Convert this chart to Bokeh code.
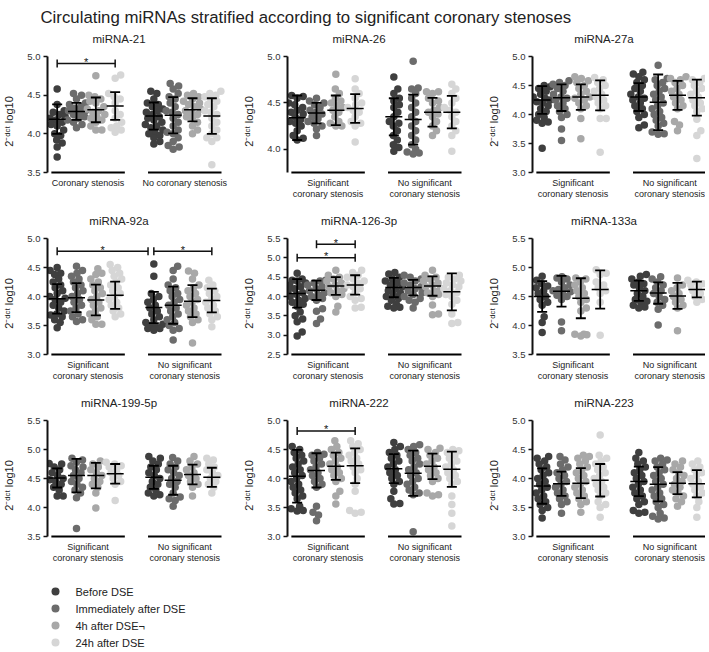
import numpy as np
from bokeh.plotting import figure
from bokeh.layouts import column, row
from bokeh.models import Range1d, FixedTicker, PrintfTickFormatter
from bokeh.core.properties import value
from bokeh.embed import file_html
from bokeh.resources import INLINE

# ---------------- data ----------------
MAIN_TITLE = "Circulating miRNAs stratified according to significant coronary stenoses"
PANEL_NAMES = ["miRNA-21", "miRNA-26", "miRNA-27a",
               "miRNA-92a", "miRNA-126-3p", "miRNA-133a",
               "miRNA-199-5p", "miRNA-222", "miRNA-223"]
TIMEPOINTS = [" Before DSE", "Immediately after DSE", "4h after DSE\u00ac", "24h after DSE"]
TP_COLORS = ["#3f3f3f", "#6c6c6c", "#a8a8a8", "#d6d6d6"]
GROUP_LABELS = [["Significant", "coronary stenosis"], ["No significant", "coronary stenosis"]]
GROUP_LABELS_MIR21 = [["Coronary stenosis"], ["No coronary stenosis"]]
Y_LABEL = "2\u207b\u1d48\u1d9c\u1d57 log10"

Y_BOUNDS = [(3.5, 5.0), (3.75, 5.0), (3.0, 5.0),
            (3.0, 5.0), (2.5, 5.5), (3.5, 5.5),
            (3.5, 5.5), (3.0, 5.0), (3.0, 5.0)]
Y_TICKS = [[3.5, 4.0, 4.5, 5.0], [4.0, 4.5, 5.0], [3.0, 3.5, 4.0, 4.5, 5.0],
           [3.0, 3.5, 4.0, 4.5, 5.0], [2.5, 3.0, 3.5, 4.0, 4.5, 5.0, 5.5], [3.5, 4.0, 4.5, 5.0, 5.5],
           [3.5, 4.0, 4.5, 5.0, 5.5], [3.0, 3.5, 4.0, 4.5, 5.0], [3.0, 3.5, 4.0, 4.5, 5.0]]

# order of each list: significant (before, immediately, 4h, 24h), non-significant (before, immediately, 4h, 24h)
mir21_values = [
    [4.58, 4.38, 4.30, 4.28, 4.25, 4.22, 4.20, 4.18, 4.15, 4.12, 4.10, 4.05, 4.00, 3.98, 3.92, 3.88, 3.83, 3.70],
    [4.52, 4.50, 4.45, 4.40, 4.38, 4.35, 4.33, 4.30, 4.30, 4.28, 4.25, 4.22, 4.20, 4.18, 4.15, 4.12, 4.08],
    [4.75, 4.50, 4.48, 4.45, 4.42, 4.40, 4.35, 4.32, 4.30, 4.28, 4.25, 4.22, 4.20, 4.18, 4.15, 4.10, 4.05, 4.05],
    [4.76, 4.72, 4.52, 4.48, 4.45, 4.40, 4.30, 4.25, 4.20, 4.15, 4.10, 4.08, 4.05, 4.02],
    [4.55, 4.52, 4.45, 4.40, 4.38, 4.35, 4.32, 4.30, 4.28, 4.25, 4.22, 4.20, 4.18, 4.15, 4.12, 4.10, 4.08, 4.05, 4.02, 4.00, 3.98, 3.95, 3.90, 3.87],
    [4.65, 4.62, 4.58, 4.52, 4.48, 4.45, 4.40, 4.35, 4.30, 4.28, 4.25, 4.20, 4.15, 4.10, 4.05, 4.02, 4.00, 3.95, 3.90, 3.85, 3.83, 3.80],
    [4.52, 4.50, 4.48, 4.45, 4.42, 4.40, 4.38, 4.35, 4.32, 4.30, 4.28, 4.25, 4.22, 4.20, 4.15, 4.10, 4.05, 4.00],
    [4.55, 4.52, 4.50, 4.48, 4.45, 4.42, 4.38, 4.35, 4.30, 4.28, 4.25, 4.20, 4.15, 4.10, 4.05, 4.00, 3.95, 3.95, 3.90, 3.60],
]
mir21_mean = [4.19, 4.29, 4.31, 4.36, 4.23, 4.24, 4.31, 4.23]
mir21_sd = [0.19, 0.11, 0.16, 0.18, 0.175, 0.235, 0.15, 0.23]

mir26_values = [
    [4.58, 4.57, 4.55, 4.50, 4.48, 4.45, 4.42, 4.40, 4.38, 4.35, 4.32, 4.30, 4.28, 4.25, 4.20, 4.15, 4.12, 4.10],
    [4.55, 4.52, 4.50, 4.48, 4.45, 4.42, 4.40, 4.38, 4.35, 4.33, 4.30, 4.28, 4.25, 4.22, 4.15],
    [4.81, 4.65, 4.60, 4.55, 4.52, 4.50, 4.47, 4.45, 4.42, 4.40, 4.35, 4.30, 4.28, 4.25, 4.25],
    [4.76, 4.65, 4.60, 4.55, 4.50, 4.48, 4.45, 4.42, 4.40, 4.35, 4.30, 4.28, 4.25, 4.08],
    [4.78, 4.65, 4.60, 4.55, 4.52, 4.48, 4.45, 4.40, 4.35, 4.30, 4.28, 4.25, 4.20, 4.15, 4.10, 4.05, 4.02, 3.98],
    [4.95, 4.66, 4.65, 4.60, 4.55, 4.50, 4.45, 4.40, 4.35, 4.30, 4.25, 4.20, 4.15, 4.10, 4.05, 4.00, 3.97, 3.96, 3.95],
    [4.62, 4.62, 4.60, 4.55, 4.52, 4.50, 4.45, 4.42, 4.40, 4.38, 4.35, 4.30, 4.25, 4.20, 4.15],
    [4.70, 4.65, 4.60, 4.55, 4.50, 4.45, 4.42, 4.40, 4.35, 4.30, 4.25, 4.20, 4.15, 3.98],
]
mir26_mean = [4.34, 4.39, 4.42, 4.44, 4.35, 4.32, 4.40, 4.40]
mir26_sd = [0.24, 0.11, 0.16, 0.155, 0.20, 0.27, 0.155, 0.175]

mir27a_values = [
    [4.50, 4.48, 4.45, 4.40, 4.35, 4.30, 4.28, 4.25, 4.22, 4.20, 4.15, 4.10, 4.05, 4.00, 3.95, 3.90, 3.87, 3.85, 3.42],
    [4.58, 4.55, 4.52, 4.50, 4.45, 4.40, 4.35, 4.30, 4.28, 4.25, 4.20, 4.15, 4.10, 4.05, 4.00, 3.95, 3.75, 3.55],
    [4.65, 4.62, 4.58, 4.55, 4.50, 4.45, 4.40, 4.35, 4.30, 4.28, 4.25, 4.20, 4.15, 4.10, 3.93, 3.58],
    [4.64, 4.60, 4.55, 4.50, 4.45, 4.40, 4.35, 4.30, 4.25, 4.20, 4.15, 4.10, 3.93, 3.93, 3.35],
    [4.73, 4.70, 4.65, 4.60, 4.55, 4.50, 4.45, 4.40, 4.35, 4.30, 4.28, 4.25, 4.20, 4.15, 4.10, 4.05, 4.00, 3.95, 3.82, 3.77],
    [4.85, 4.62, 4.60, 4.55, 4.50, 4.45, 4.40, 4.35, 4.30, 4.25, 4.20, 4.15, 4.10, 4.05, 4.00, 3.95, 3.90, 3.85, 3.80, 3.70, 3.67, 3.66],
    [4.65, 4.62, 4.60, 4.55, 4.50, 4.45, 4.40, 4.35, 4.30, 4.25, 4.20, 4.15, 4.10, 3.88, 3.82, 3.72],
    [4.62, 4.60, 4.55, 4.50, 4.45, 4.40, 4.35, 4.30, 4.25, 4.20, 4.15, 4.10, 4.05, 3.92, 3.72, 3.64, 3.24],
]
mir27a_mean = [4.25, 4.29, 4.30, 4.33, 4.30, 4.21, 4.33, 4.29]
mir27a_sd = [0.24, 0.23, 0.22, 0.26, 0.24, 0.48, 0.25, 0.31]

mir92a_values = [
    [4.50, 4.45, 4.40, 4.38, 4.30, 4.25, 4.20, 4.15, 4.10, 4.05, 4.00, 3.97, 3.95, 3.90, 3.85, 3.80, 3.75, 3.70, 3.68, 3.65, 3.60, 3.55, 3.46],
    [4.52, 4.45, 4.40, 4.35, 4.30, 4.25, 4.20, 4.15, 4.10, 4.05, 4.00, 3.95, 3.90, 3.85, 3.80, 3.75, 3.70, 3.65, 3.60, 3.57],
    [4.48, 4.40, 4.38, 4.30, 4.25, 4.20, 4.15, 4.10, 4.05, 4.00, 3.95, 3.90, 3.85, 3.80, 3.75, 3.70, 3.65, 3.60, 3.52, 3.52],
    [4.55, 4.50, 4.45, 4.40, 4.35, 4.30, 4.25, 4.20, 4.15, 4.10, 4.05, 4.00, 3.95, 3.90, 3.85, 3.80, 3.75, 3.70, 3.65],
    [4.56, 4.35, 4.05, 4.00, 3.95, 3.90, 3.85, 3.80, 3.75, 3.70, 3.65, 3.60, 3.55, 3.52, 3.50, 3.48, 3.45, 3.45, 3.42],
    [4.52, 4.45, 4.30, 4.20, 4.15, 4.10, 4.05, 4.00, 3.95, 3.90, 3.85, 3.80, 3.75, 3.70, 3.65, 3.60, 3.55, 3.50, 3.45, 3.42, 3.25],
    [4.44, 4.40, 4.30, 4.20, 4.15, 4.10, 4.05, 4.00, 3.95, 3.90, 3.85, 3.80, 3.75, 3.70, 3.65, 3.60, 3.55, 3.20],
    [4.28, 4.20, 4.15, 4.10, 4.05, 4.00, 3.95, 3.90, 3.85, 3.80, 3.75, 3.70, 3.65, 3.60, 3.48],
]
mir92a_mean = [3.96, 3.98, 3.94, 4.02, 3.81, 3.85, 3.92, 3.93]
mir92a_sd = [0.255, 0.25, 0.265, 0.235, 0.27, 0.32, 0.275, 0.205]

mir126_values = [
    [4.60, 4.45, 4.42, 4.40, 4.35, 4.30, 4.25, 4.20, 4.15, 4.10, 4.05, 4.00, 3.95, 3.90, 3.85, 3.80, 3.75, 3.60, 3.50, 3.42, 3.35, 3.08, 2.98],
    [4.42, 4.40, 4.35, 4.30, 4.25, 4.20, 4.15, 4.10, 4.05, 4.00, 3.95, 3.90, 3.68, 3.62, 3.42, 3.30],
    [4.68, 4.55, 4.50, 4.45, 4.40, 4.35, 4.30, 4.25, 4.20, 4.15, 4.10, 4.05, 4.00, 3.75, 3.60],
    [4.68, 4.62, 4.55, 4.50, 4.45, 4.40, 4.35, 4.30, 4.25, 4.20, 4.10, 4.00, 3.95, 3.90, 3.72, 3.70],
    [4.62, 4.58, 4.50, 4.45, 4.40, 4.35, 4.30, 4.25, 4.20, 4.15, 4.10, 4.05, 4.00, 3.95, 3.90, 3.80, 3.75, 3.72, 3.70],
    [4.55, 4.50, 4.45, 4.40, 4.35, 4.30, 4.25, 4.20, 4.15, 4.10, 4.05, 4.00, 3.95, 3.90, 3.85, 3.70],
    [4.68, 4.55, 4.50, 4.45, 4.40, 4.35, 4.30, 4.25, 4.20, 4.15, 4.10, 4.05, 4.00, 3.78, 3.55, 3.53],
    [4.55, 4.50, 4.45, 4.40, 4.35, 4.30, 4.25, 4.20, 4.15, 4.10, 4.05, 4.00, 3.90, 3.80, 3.55, 3.33, 3.30],
]
mir126_mean = [4.08, 4.16, 4.27, 4.30, 4.23, 4.23, 4.27, 4.12]
mir126_sd = [0.37, 0.25, 0.23, 0.25, 0.25, 0.20, 0.25, 0.48]

mir133a_values = [
    [4.85, 4.78, 4.72, 4.68, 4.65, 4.60, 4.55, 4.50, 4.45, 4.40, 4.35, 4.15, 4.05, 3.88],
    [4.84, 4.82, 4.80, 4.75, 4.70, 4.65, 4.62, 4.60, 4.58, 4.55, 4.52, 4.50, 4.45, 4.06, 3.91],
    [4.82, 4.80, 4.75, 4.70, 4.65, 4.60, 4.55, 4.50, 4.45, 4.40, 4.30, 4.25, 3.85, 3.84, 3.82, 3.85],
    [4.96, 4.90, 4.88, 4.75, 4.70, 4.65, 4.60, 4.55, 4.40, 3.83],
    [4.88, 4.85, 4.80, 4.75, 4.72, 4.70, 4.65, 4.60, 4.55, 4.50, 4.45, 4.42, 4.40, 4.35, 4.32, 4.30],
    [4.84, 4.80, 4.75, 4.70, 4.65, 4.60, 4.55, 4.50, 4.45, 4.40, 4.35, 4.28, 4.01],
    [4.82, 4.70, 4.65, 4.60, 4.55, 4.50, 4.45, 4.40, 4.35, 4.30, 3.91],
    [4.78, 4.75, 4.72, 4.70, 4.65, 4.60, 4.55, 4.50, 4.45, 4.40],
]
mir133a_mean = [4.50, 4.59, 4.47, 4.62, 4.60, 4.56, 4.51, 4.62]
mir133a_sd = [0.265, 0.265, 0.345, 0.33, 0.175, 0.185, 0.225, 0.135]

mir199_values = [
    [4.76, 4.75, 4.70, 4.65, 4.60, 4.55, 4.50, 4.48, 4.45, 4.40, 4.35, 4.30, 4.20, 4.20],
    [4.85, 4.82, 4.78, 4.72, 4.70, 4.65, 4.60, 4.55, 4.50, 4.45, 4.40, 4.35, 4.30, 4.25, 4.17, 3.64],
    [4.80, 4.75, 4.70, 4.65, 4.60, 4.55, 4.50, 4.45, 4.40, 4.35, 4.25, 3.99],
    [4.78, 4.75, 4.72, 4.70, 4.65, 4.60, 4.55, 4.50, 4.45, 4.40, 4.12],
    [4.88, 4.85, 4.80, 4.75, 4.70, 4.65, 4.60, 4.55, 4.50, 4.45, 4.40, 4.35, 4.30, 4.25, 4.22, 4.20],
    [4.86, 4.80, 4.75, 4.70, 4.65, 4.60, 4.55, 4.50, 4.45, 4.40, 4.35, 4.25, 4.18, 4.15, 4.12, 4.02],
    [4.88, 4.80, 4.75, 4.70, 4.65, 4.60, 4.55, 4.50, 4.45, 4.40, 4.35, 4.20],
    [4.85, 4.82, 4.75, 4.70, 4.65, 4.60, 4.55, 4.50, 4.45, 4.40, 4.35, 4.25],
]
mir199_mean = [4.51, 4.55, 4.55, 4.58, 4.52, 4.47, 4.57, 4.52]
mir199_sd = [0.165, 0.29, 0.22, 0.17, 0.20, 0.25, 0.17, 0.165]

mir222_values = [
    [4.55, 4.50, 4.45, 4.40, 4.35, 4.30, 4.25, 4.20, 4.15, 4.10, 4.05, 4.00, 3.95, 3.90, 3.85, 3.80, 3.75, 3.70, 3.65, 3.52, 3.48, 3.45, 3.44],
    [4.45, 4.42, 4.40, 4.35, 4.30, 4.25, 4.20, 4.15, 4.10, 4.05, 4.00, 3.95, 3.90, 3.85, 3.52, 3.42, 3.37, 3.27],
    [4.65, 4.55, 4.50, 4.45, 4.40, 4.35, 4.30, 4.25, 4.20, 4.15, 4.10, 4.05, 4.00, 3.95, 3.78, 3.70, 3.56],
    [4.65, 4.60, 4.55, 4.50, 4.45, 4.40, 4.35, 4.30, 4.25, 4.20, 4.15, 4.10, 4.00, 3.90, 3.78, 3.45, 3.42, 3.40],
    [4.62, 4.55, 4.50, 4.45, 4.40, 4.35, 4.30, 4.25, 4.20, 4.15, 4.10, 4.05, 4.00, 3.95, 3.90, 3.78, 3.65, 3.57, 3.56],
    [4.58, 4.55, 4.50, 4.45, 4.40, 4.35, 4.30, 4.25, 4.20, 4.15, 4.10, 4.05, 4.00, 3.95, 3.90, 3.85, 3.80, 3.75, 3.72, 3.08],
    [4.52, 4.50, 4.45, 4.40, 4.35, 4.30, 4.25, 4.20, 4.15, 4.10, 4.05, 4.00, 3.95, 3.75, 3.72, 3.70],
    [4.50, 4.48, 4.45, 4.40, 4.35, 4.30, 4.25, 4.20, 4.15, 4.10, 4.05, 4.00, 3.95, 3.90, 3.70, 3.55, 3.40, 3.18],
]
mir222_mean = [4.04, 4.14, 4.21, 4.22, 4.17, 4.09, 4.21, 4.16]
mir222_sd = [0.455, 0.295, 0.235, 0.30, 0.25, 0.39, 0.22, 0.305]

mir223_values = [
    [4.38, 4.35, 4.30, 4.25, 4.20, 4.15, 4.10, 4.05, 4.00, 3.95, 3.90, 3.85, 3.80, 3.75, 3.70, 3.65, 3.60, 3.55, 3.50, 3.45, 3.32],
    [4.38, 4.32, 4.25, 4.20, 4.15, 4.10, 4.05, 4.00, 3.95, 3.90, 3.85, 3.80, 3.75, 3.70, 3.65, 3.60, 3.55, 3.40],
    [4.40, 4.38, 4.35, 4.30, 4.25, 4.20, 4.15, 4.10, 4.05, 4.00, 3.95, 3.90, 3.85, 3.80, 3.75, 3.70, 3.65, 3.60, 3.55, 3.42],
    [4.75, 4.40, 4.35, 4.30, 4.25, 4.20, 4.15, 4.10, 4.05, 4.00, 3.95, 3.90, 3.85, 3.80, 3.75, 3.70, 3.60, 3.55, 3.50, 3.33],
    [4.45, 4.35, 4.30, 4.25, 4.20, 4.15, 4.10, 4.05, 4.00, 3.95, 3.90, 3.85, 3.80, 3.75, 3.70, 3.65, 3.60, 3.55, 3.45, 3.42, 3.40],
    [4.35, 4.32, 4.30, 4.25, 4.20, 4.15, 4.10, 4.05, 4.00, 3.95, 3.90, 3.85, 3.80, 3.75, 3.70, 3.65, 3.60, 3.55, 3.50, 3.40, 3.35, 3.32, 3.30],
    [4.30, 4.25, 4.20, 4.15, 4.10, 4.05, 4.00, 3.95, 3.90, 3.85, 3.80, 3.75, 3.70, 3.65, 3.60, 3.52],
    [4.30, 4.25, 4.20, 4.15, 4.10, 4.05, 4.00, 3.95, 3.90, 3.85, 3.80, 3.75, 3.70, 3.60, 3.50, 3.33],
]
mir223_mean = [3.87, 3.91, 3.92, 3.97, 3.95, 3.90, 3.92, 3.91]
mir223_sd = [0.305, 0.21, 0.26, 0.28, 0.255, 0.295, 0.19, 0.235]

# significance brackets: (from position, to position, level)
mir21_brackets = [(0, 3, 4.91)]
mir92a_brackets = [(0, 4.7, 4.78), (5, 8, 4.78)]
mir126_brackets = [(1, 3, 5.35), (0, 3, 5.0)]
mir222_brackets = [(0, 3, 4.82)]

PANEL_VALUES = [mir21_values, mir26_values, mir27a_values, mir92a_values, mir126_values,
                mir133a_values, mir199_values, mir222_values, mir223_values]
PANEL_MEANS = [mir21_mean, mir26_mean, mir27a_mean, mir92a_mean, mir126_mean,
               mir133a_mean, mir199_mean, mir222_mean, mir223_mean]
PANEL_SDS = [mir21_sd, mir26_sd, mir27a_sd, mir92a_sd, mir126_sd,
             mir133a_sd, mir199_sd, mir222_sd, mir223_sd]
PANEL_BRACKETS = [mir21_brackets, [], [], mir92a_brackets, mir126_brackets, [], [], mir222_brackets, []]

# ---------------- layout / style ----------------
FONT = "Liberation Sans"
ROW_H = 182
AXIS_TOP_PX = 26
AXIS_BOTTOM_PX = 142
COLS = [(47, 193), (43, 189), (56, 173)]  # left border, frame width
KX = 174 / 9.0
XPOS = [0, 1, 2, 3, 5, 6, 7, 8]
X_START = -0.5


def swarm_offsets(vals, ky, d=6.0, maxoff=9.0, step=0.5):
    order = sorted(range(len(vals)), key=lambda i: vals[i])
    cands = [0.0]
    s = step
    while s <= maxoff + 1e-9:
        cands += [s, -s]
        s += step
    placed = []
    offs = [0.0] * len(vals)
    for i in order:
        y = vals[i] * ky
        chosen = None
        best_c, best_d = 0.0, -1.0
        for c in cands:
            md = 1e9
            for px, py in placed:
                if abs(py - y) < d:
                    md = min(md, float(np.hypot(c - px, y - py)))
            if md >= d:
                chosen = c
                break
            if md > best_d:
                best_d, best_c = md, c
        if chosen is None:
            chosen = best_c
        offs[i] = chosen
        placed.append((chosen, y))
    return offs


def build_panel(idx):
    col = idx % 3
    bl, fw = COLS[col]
    bottom, top = Y_BOUNDS[idx]
    k = (AXIS_BOTTOM_PX - AXIS_TOP_PX) / (top - bottom)
    y_end = top + AXIS_TOP_PX / k
    y_start = y_end - ROW_H / k
    kx = KX

    def ypx(px):
        return y_end - px / k

    p = figure(frame_width=fw, frame_height=ROW_H, min_border_left=bl, min_border_right=0,
               min_border_top=0, min_border_bottom=0,
               x_range=Range1d(X_START, X_START + fw / kx), y_range=Range1d(y_start, y_end),
               x_axis_type=None, output_backend="svg", toolbar_location=None, tools="")
    p.outline_line_color = None
    p.grid.visible = False
    p.background_fill_color = "white"
    p.border_fill_color = "white"

    ax = p.yaxis[0]
    ax.bounds = (bottom, top)
    ax.ticker = FixedTicker(ticks=Y_TICKS[idx])
    ax.formatter = PrintfTickFormatter(format="%.1f")
    ax.minor_tick_line_color = None
    ax.axis_line_width = 2
    ax.axis_line_color = "#111111"
    ax.major_tick_line_width = 1.5
    ax.major_tick_line_color = "#111111"
    ax.major_tick_out = 4
    ax.major_tick_in = 0
    ax.major_label_standoff = 3
    ax.major_label_text_font = FONT
    ax.major_label_text_font_size = "9.5px"
    ax.major_label_text_color = "#333333"
    ax.axis_label = Y_LABEL
    ax.axis_label_standoff = 9
    ax.axis_label_text_font = FONT
    ax.axis_label_text_font_size = "11px"
    ax.axis_label_text_font_style = "normal"
    ax.axis_label_text_color = "#222222"

    vals = PANEL_VALUES[idx]
    means = PANEL_MEANS[idx]
    sds = PANEL_SDS[idx]

    # dots
    for g in range(8):
        offs = swarm_offsets(vals[g], k)
        xs = [XPOS[g] + o / kx for o in offs]
        p.scatter(xs, vals[g], size=7.5, fill_color=TP_COLORS[g % 4], line_color=None)

    # error bars (mean +/- SD)
    m = np.array(means)
    s = np.array(sds)
    xp = np.array(XPOS, dtype=float)
    p.segment(xp, m - s, xp, m + s, line_color="black", line_width=1.8)
    cap = 5.0 / kx
    p.segment(xp - cap, m + s, xp + cap, m + s, line_color="black", line_width=1.8)
    p.segment(xp - cap, m - s, xp + cap, m - s, line_color="black", line_width=1.8)
    mw = 8.5 / kx
    p.segment(xp - mw, m, xp + mw, m, line_color="black", line_width=1.5)

    # group bars on the baseline
    gx0 = [XPOS[0] - 0.3, XPOS[4] - 0.3]
    gx1 = [XPOS[3] + 0.5, XPOS[7] + 0.5]
    p.segment(gx0, [bottom, bottom], gx1, [bottom, bottom], line_color="black", line_width=2)

    # group labels
    labels = GROUP_LABELS_MIR21 if idx == 0 else GROUP_LABELS
    centers = [(a + b) / 2 for a, b in zip(gx0, gx1)]
    for gi, lab in enumerate(labels):
        for li, line in enumerate(lab):
            p.text([centers[gi]], [ypx(152 + 11 * li)], text=[line], text_font=value(FONT),
                   text_font_size="9px", text_align="center", text_baseline="middle",
                   text_color="#222222")

    # panel title
    p.text([3.2], [ypx(8)], text=[PANEL_NAMES[idx]], text_font=value(FONT),
           text_font_size="11.5px", text_align="center", text_baseline="middle",
           text_color="#222222")

    # significance brackets
    for (a, b, lvl) in PANEL_BRACKETS[idx]:
        tick = 4.0 / k
        p.segment([a], [lvl], [b], [lvl], line_color="#111111", line_width=1.5)
        p.segment([a, b], [lvl - tick, lvl - tick], [a, b], [lvl + tick, lvl + tick],
                  line_color="#111111", line_width=1.5)
        p.text([(a + b) / 2], [lvl + 1.5 / k], text=["*"], text_font=value(FONT), text_font_size="11px",
               text_align="center", text_baseline="alphabetic", text_color="#111111")
    return p


panels = [build_panel(i) for i in range(9)]

# main title
tp = figure(frame_width=701, frame_height=30, min_border=0, min_border_left=0, min_border_right=0,
            min_border_top=0, min_border_bottom=0,
            x_range=Range1d(0, 701), y_range=Range1d(30, 0), x_axis_type=None, y_axis_type=None,
            output_backend="svg", toolbar_location=None, tools="")
tp.outline_line_color = None
tp.grid.visible = False
tp.text([40], [17], text=[MAIN_TITLE], text_font=value(FONT), text_font_size="16.8px",
        text_align="left", text_baseline="middle", text_color="#222222")

# legend
lp = figure(frame_width=320, frame_height=74, min_border=0, min_border_left=0, min_border_right=0,
            min_border_top=0, min_border_bottom=0,
            x_range=Range1d(0, 320), y_range=Range1d(74, 0), x_axis_type=None, y_axis_type=None,
            output_backend="svg", toolbar_location=None, tools="")
lp.outline_line_color = None
lp.grid.visible = False
ly = [15 + 17 * i for i in range(len(TIMEPOINTS))]
lp.scatter([55] * len(TIMEPOINTS), ly, size=8, fill_color=TP_COLORS, line_color=None)
lp.text([75] * len(TIMEPOINTS), ly, text=TIMEPOINTS, text_font=value(FONT), text_font_size="11px",
        text_align="left", text_baseline="middle", text_color="#222222")

layout = column(tp,
                row(panels[0], panels[1], panels[2]),
                row(panels[3], panels[4], panels[5]),
                row(panels[6], panels[7], panels[8]),
                lp)

open("out.html", "w").write(file_html(layout, INLINE))
